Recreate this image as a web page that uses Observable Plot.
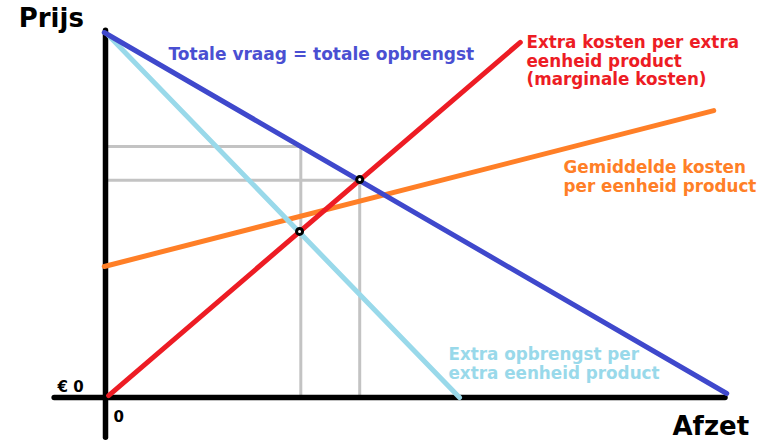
<!DOCTYPE html>
<html>
<head>
<meta charset="utf-8">
<script src="https://cdn.jsdelivr.net/npm/d3@7"></script>
<script src="https://cdn.jsdelivr.net/npm/@observablehq/plot@0.6"></script>
<style>
  html, body { margin: 0; padding: 0; background: #fff; }
  #chart svg { display: block; }
</style>
</head>
<body>
<div id="chart"></div>
<script>
// Quantity (afzet) and price (prijs) in arbitrary units
const demandQ = [-0.02, 10.02];      // Totale vraag = totale opbrengst
const demandP = [10.0, 0.11];
const mrQ = [0.05, 5.71];            // Extra opbrengst per extra eenheid product
const mrP = [9.92, 0.0];
const mcQ = [0.05, 6.69];            // Extra kosten per extra eenheid product
const mcP = [0.05, 9.73];
const acQ = [-0.02, 9.81];           // Gemiddelde kosten per eenheid product
const acP = [3.59, 7.86];

// Guide lines (price, quantity levels)
const guideQ = [3.15, 4.10];
const guideP = [6.88, 5.95];

// Marked intersections
const pointQ = [4.10, 3.13];
const pointP = [5.97, 4.55];

// Axis extents
const axisQ = [-0.82, 10.0];
const axisP = [-1.1, 10.05];

const labelTexts = [
  "Prijs",
  "Afzet",
  "€ 0",
  "0",
  "Totale vraag = totale opbrengst",
  "Extra kosten per extra\neenheid product\n(marginale kosten)",
  "Gemiddelde kosten\nper eenheid product",
  "Extra opbrengst per\nextra eenheid product"
];

const toLine = (qs, ps) => qs.map((q, i) => ({q, p: ps[i]}));

const labelPos = [
  {q: -1.40, p: 10.16, size: 26, color: "#000000"},
  {q: 9.145, p: -1.04, size: 26, color: "#000000"},
  {q: -0.774, p: 0.164, size: 15, color: "#000000"},
  {q: 0.13, p: -0.658, size: 15, color: "#000000"},
  {q: 1.016, p: 9.26, size: 17, color: "#4a4fd2"},
  {q: 6.79, p: 8.55, size: 16.8, color: "#ed1c24"},
  {q: 7.387, p: 5.64, size: 16.8, color: "#ff7f27"},
  {q: 5.532, p: 0.52, size: 16.8, color: "#99d9ea"}
];
const labels = labelTexts.map((t, i) => ({text: t, ...labelPos[i]}));

const lineOpts = {x: "q", y: "p", strokeWidth: 5, strokeLinecap: "round"};

const chart = Plot.plot({
  width: 769,
  height: 441,
  margin: 0,
  x: {domain: [0, 10], range: [105, 725], axis: null},
  y: {domain: [0, 10], range: [397, 32], axis: null},
  style: {background: "#ffffff", fontFamily: "'DejaVu Sans', Verdana, sans-serif"},
  marks: [
    // gray guide lines
    Plot.ruleY(guideP, {x1: 0, x2: (d, i) => guideQ[i], stroke: "#c3c3c3", strokeWidth: 3}),
    Plot.ruleX(guideQ, {y1: 0, y2: (d, i) => guideP[i], stroke: "#c3c3c3", strokeWidth: 3}),
    // axes
    Plot.ruleY([0], {x1: axisQ[0], x2: axisQ[1], stroke: "#000", strokeWidth: 5.5, strokeLinecap: "round"}),
    Plot.ruleX([0], {y1: axisP[0], y2: axisP[1], stroke: "#000", strokeWidth: 5.5, strokeLinecap: "round"}),
    // curves
    Plot.line(toLine(acQ, acP), {...lineOpts, stroke: "#ff7f27"}),
    Plot.line(toLine(mrQ, mrP), {...lineOpts, stroke: "#99d9ea"}),
    Plot.line(toLine(demandQ, demandP), {...lineOpts, stroke: "#3f48cc"}),
    Plot.line(toLine(mcQ, mcP), {...lineOpts, stroke: "#ed1c24"}),
    // points
    Plot.dot(toLine(pointQ, pointP), {x: "q", y: "p", r: 3, fill: "#fff", stroke: "#000", strokeWidth: 3}),
    // labels
    ...labels.map(l => Plot.text([l], {
      x: "q", y: "p", text: "text", textAnchor: "start", lineAnchor: "bottom",
      lineHeight: 1.1, fontSize: l.size, fontWeight: "bold", fill: l.color
    }))
  ]
});
document.getElementById("chart").append(chart);
</script>
</body>
</html>
